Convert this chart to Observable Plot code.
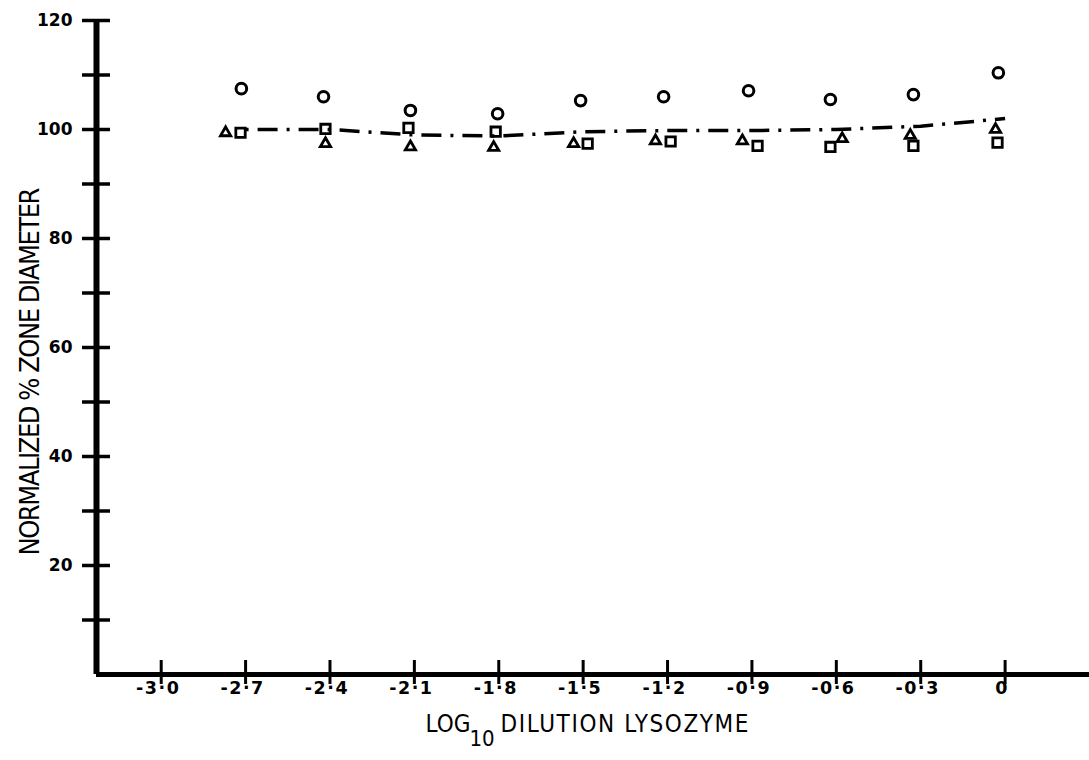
<!DOCTYPE html>
<html>
<head>
<meta charset="utf-8">
<script src="https://cdn.jsdelivr.net/npm/d3@7"></script>
<script src="https://cdn.jsdelivr.net/npm/@observablehq/plot@0.6"></script>
<style>
  html, body { margin: 0; padding: 0; background: #ffffff; }
  #chart svg { display: block; }
  [aria-label="x-axis tick label"] text { letter-spacing: 1.5px; }
</style>
</head>
<body>
<div id="chart"></div>
<script>
// Log10 dilution of lysozyme (nominal steps, carried by the dash-dot curve)
const dilution = [-2.7, -2.4, -2.1, -1.8, -1.5, -1.2, -0.9, -0.6, -0.3, 0];

// Open circles, plotted just beside each dilution step
const circleX = [-2.715, -2.423, -2.114, -1.804, -1.509, -1.214, -0.912, -0.621, -0.326, -0.024];
const circleY = [107.5, 106.0, 103.5, 102.9, 105.3, 106.0, 107.1, 105.5, 106.4, 110.4];

// Open triangles
const triangleX = [-2.771, -2.416, -2.114, -1.818, -1.534, -1.243, -0.934, -0.579, -0.337, -0.034];
const triangleY = [99.4, 97.4, 96.8, 96.7, 97.4, 97.9, 97.9, 98.3, 98.9, 100.0];

// Open squares
const squareX = [-2.718, -2.416, -2.121, -1.811, -1.484, -1.189, -0.880, -0.621, -0.326, -0.027];
const squareY = [99.4, 100.1, 100.3, 99.6, 97.4, 97.8, 97.0, 96.8, 97.0, 97.6];

// Dash-dot reference curve
const curveY = [100.0, 100.0, 99.0, 98.8, 99.6, 99.8, 99.8, 100.0, 100.6, 102.0];

// Axes
const xDomain = [-3.23, 0.3];
const xTicks = [-3.0, -2.7, -2.4, -2.1, -1.8, -1.5, -1.2, -0.9, -0.6, -0.3, 0];
const xTickLabels = ["-3·0", "-2·7", "-2·4", "-2·1", "-1·8", "-1·5", "-1·2", "-0·9", "-0·6", "-0·3", "0"];
const yDomain = [0, 120];
const yTicks = [10, 20, 30, 40, 50, 60, 70, 80, 90, 100, 110, 120];
const yLabelTicks = [20, 40, 60, 80, 100, 120];

const yTitle = "NORMALIZED % ZONE DIAMETER";
const xTitleParts = ["LOG", "10", "DILUTION LYSOZYME"];

const xLabelOf = new Map(xTicks.map((t, i) => [t, xTickLabels[i]]));
const titleFont = "'Liberation Sans Narrow', 'DejaVu Sans Condensed', 'Roboto', sans-serif";
const tickFont = "'DejaVu Sans', 'Liberation Sans', sans-serif";

const chart = Plot.plot({
  width: 1089,
  height: 760,
  marginLeft: 96,
  marginRight: 0,
  marginTop: 20,
  marginBottom: 86,
  style: { background: "#ffffff", color: "#000000" },
  x: { domain: xDomain, label: null },
  y: { domain: yDomain, label: null },
  marks: [
    // y ticks crossing the axis line on both sides
    Plot.axisY(yTicks, { tickSize: 28, dx: 14, strokeWidth: 3.5, fill: "none", label: null }),
    Plot.axisY(yLabelTicks, {
      tickSize: 0, tickPadding: 24, fontSize: 17, fontWeight: "bold",
      fontFamily: tickFont, label: null
    }),
    // x ticks crossing the axis line
    Plot.axisX(xTicks, { tickSize: 24, dy: -14, strokeWidth: 3, fill: "none", label: null }),
    Plot.axisX(xTicks, {
      tickSize: 0, tickPadding: 7, fontSize: 17.5, fontWeight: "bold", dx: -3,
      fontFamily: tickFont, tickFormat: d => xLabelOf.get(d), label: null
    }),
    // heavy axis lines
    Plot.ruleX([xDomain[0]], { strokeWidth: 6, stroke: "#000" }),
    Plot.ruleY([yDomain[0]], { strokeWidth: 5, stroke: "#000" }),
    // dash-dot curve
    Plot.line(curveY, {
      x: dilution, y: curveY, stroke: "#000", strokeWidth: 3.5,
      strokeDasharray: "3,9,20,9", strokeLinecap: "butt"
    }),
    // symbols
    Plot.dot(circleY, { x: circleX, y: circleY, r: 5.3, stroke: "#000", strokeWidth: 3, fill: "none" }),
    Plot.dot(triangleY, { x: triangleX, y: triangleY, symbol: "triangle", r: 3.8, stroke: "#000", strokeWidth: 2.8, fill: "none" }),
    Plot.dot(squareY, { x: squareX, y: squareY, symbol: "square", r: 5.3, stroke: "#000", strokeWidth: 2.8, fill: "none" }),
    // axis titles
    Plot.text([yTitle], {
      text: d => d, frameAnchor: "left", dx: -66, dy: 24, rotate: -90,
      textAnchor: "middle", lineAnchor: "middle", fontSize: 27, fontFamily: titleFont, fill: "#000"
    }),
    Plot.text([xTitleParts[0]], {
      text: d => d, frameAnchor: "bottom-left", dx: 329, dy: 40,
      textAnchor: "start", lineAnchor: "top", fontSize: 24, fontFamily: titleFont, fill: "#000"
    }),
    Plot.text([xTitleParts[1]], {
      text: d => d, frameAnchor: "bottom-left", dx: 373, dy: 56,
      textAnchor: "start", lineAnchor: "top", fontSize: 22, fontFamily: titleFont, fill: "#000"
    }),
    Plot.text([xTitleParts[2]], {
      text: d => d, frameAnchor: "bottom-left", dx: 404, dy: 40,
      textAnchor: "start", lineAnchor: "top", fontSize: 24, fontFamily: titleFont, fill: "#000"
    })
  ]
});

// Spread the typewriter-style titles to their set widths
const titleWidths = new Map([[yTitle, 368], ["DILUTION LYSOZYME", 248]]);
d3.select(chart).selectAll("text").each(function () {
  const w = titleWidths.get(this.textContent);
  if (w) {
    this.setAttribute("textLength", w);
    this.setAttribute("lengthAdjust", "spacing");
  }
});

document.getElementById("chart").appendChild(chart);
</script>
</body>
</html>
